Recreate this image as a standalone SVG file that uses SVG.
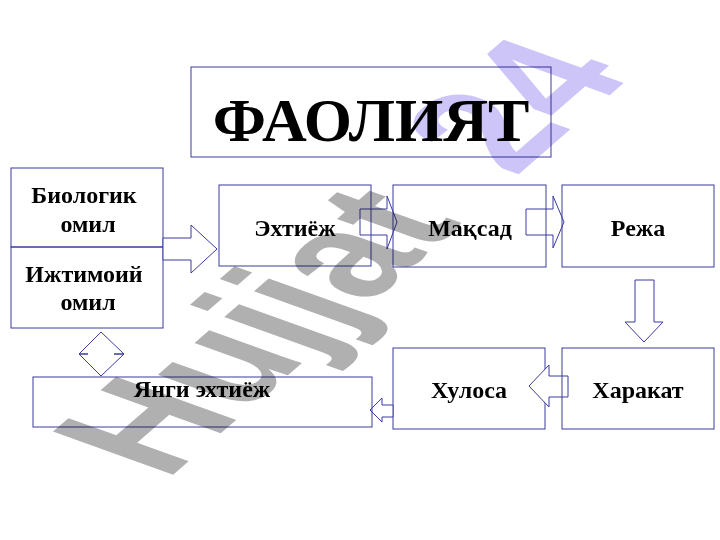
<svg xmlns="http://www.w3.org/2000/svg" width="720" height="540" viewBox="0 0 720 540">
<style>
.box{fill:none;stroke:#3d3a9e;stroke-width:1}
.arr{fill:#ffffff;stroke:#3d3a9e;stroke-width:1;stroke-linejoin:miter}
.lbl{font-family:"Liberation Serif","Times New Roman",serif;font-weight:bold;font-size:24px;fill:#000;text-anchor:middle}
.title{font-family:"Liberation Serif","Times New Roman",serif;font-weight:bold;font-size:62px;fill:#000;text-anchor:middle}
.wm{font-family:"Liberation Sans",Arial,sans-serif;font-weight:bold;font-size:100px;mix-blend-mode:multiply}
</style>
<rect width="720" height="540" fill="#ffffff"/>
<g id="title">
<rect class="box" x="191" y="67" width="360" height="90"/>
<text class="title" x="371" y="141">ФАОЛИЯТ</text>
</g>
<g id="connectors-under">
<path class="arr" d="M360,209 H387 V196 L397,222 L387,249 V235 H360 Z"/>
<path class="arr" d="M526,209 H553 V196 L564,222 L553,248 V235 H526 Z"/>
</g>
<g id="factors">
<rect class="box" x="11" y="168" width="152" height="79"/>
<rect class="box" x="11" y="247" width="152" height="81"/>
<text class="lbl" x="84" y="203">Биологик</text>
<text class="lbl" x="88" y="232">омил</text>
<text class="lbl" x="84" y="282">Ижтимоий</text>
<text class="lbl" x="88" y="310">омил</text>
</g>
<g id="ehtiyoj">
<rect class="box" x="219" y="185" width="152" height="81"/>
<text class="lbl" x="295" y="236">Эхтиёж</text>
</g>
<g id="maqsad">
<rect class="box" x="393" y="185" width="153" height="82"/>
<text class="lbl" x="470" y="236">Мақсад</text>
</g>
<g id="reja">
<rect class="box" x="562" y="185" width="152" height="82"/>
<text class="lbl" x="638" y="236">Режа</text>
</g>
<g id="xulosa">
<rect class="box" x="393" y="348" width="152" height="81"/>
<text class="lbl" x="469" y="398">Хулоса</text>
</g>
<g id="connectors">
<path class="arr" d="M163,238 H191 V225 L217,249 L191,273 V260 H163 Z"/>
<path class="arr" d="M635,280 H654 V322 H663 L644,342 L625,322 H635 Z"/>
<path class="arr" d="M568,376 H549 V365 L529,386 L549,407 V397 H568 Z"/>
<path class="arr" d="M393,405 H382 V398 L370,410 L382,422 V417 H393 Z"/>
<path class="arr" d="M101,332 L124,354 H114 H124 L101,376 L79,354 H88 H79 Z"/>
</g>
<g id="harakat">
<rect class="box" x="562" y="348" width="152" height="81"/>
<text class="lbl" x="638" y="398">Харакат</text>
</g>
<g id="yangi-ehtiyoj">
<rect class="box" x="33" y="377" width="339" height="50"/>
<text class="lbl" x="202" y="397">Янги эхтиёж</text>
</g>
<g id="watermark" transform="matrix(1.072,-0.932,1.746,0.628,166,481)">
<text class="wm" x="0" y="0"><tspan fill="#b0b0b0">Hujjat</tspan><tspan fill="#cdc5f8" dx="20"> 24</tspan></text>
</g>
</svg>
